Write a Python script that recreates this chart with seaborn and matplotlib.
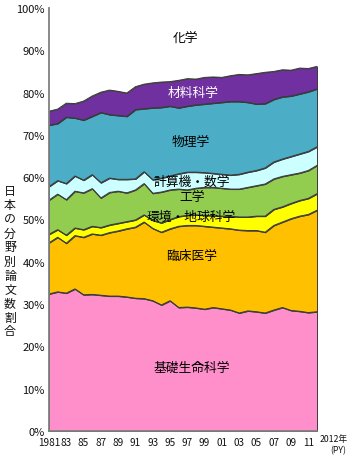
import numpy as np
import pandas as pd
import matplotlib
matplotlib.use("Agg")
import matplotlib.pyplot as plt
import seaborn as sns

years = list(range(1981, 2013))

fields = ["基礎生命科学", "臨床医学", "環境・地球科学", "工学", "計算機・数学", "物理学", "材料科学", "化学"]

basic_life = [32.4, 32.9, 32.6, 33.6, 32.2, 32.3, 32.1, 31.9, 31.9, 31.7, 31.4, 31.3, 30.8, 29.8, 30.8, 29.2,
              29.3, 29.1, 28.8, 29.2, 28.9, 28.6, 27.9, 28.4, 28.2, 27.9, 28.6, 29.2, 28.5, 28.3, 28.0, 28.2]
clinical = [12.1, 12.9, 11.8, 12.6, 13.6, 14.3, 14.2, 15.0, 15.4, 16.1, 16.8, 18.1, 17.1, 17.2, 17.0, 19.2,
            19.3, 19.5, 19.6, 19.0, 19.1, 19.2, 19.6, 19.0, 19.2, 19.1, 20.0, 20.2, 21.7, 22.5, 23.2, 24.0]
env_earth = [2.0, 1.8, 1.9, 1.8, 1.8, 1.8, 1.8, 1.8, 1.8, 1.7, 1.7, 1.7, 1.9, 2.2, 2.2, 2.3,
             2.4, 2.5, 2.6, 2.7, 2.8, 3.0, 3.1, 3.2, 3.4, 3.8, 3.8, 3.6, 3.6, 3.7, 3.8, 3.9]
engineering = [8.1, 8.4, 8.4, 8.7, 8.7, 8.9, 7.0, 7.7, 7.6, 6.8, 7.1, 7.4, 6.4, 7.3, 7.0, 6.5,
               6.0, 6.3, 6.6, 6.7, 6.6, 6.4, 6.6, 7.0, 7.2, 7.6, 7.2, 7.2, 6.8, 6.5, 6.6, 6.7]
comp_math = [3.2, 3.2, 3.8, 3.6, 3.0, 3.3, 3.6, 3.4, 2.8, 3.2, 2.6, 2.8, 3.2, 3.3, 3.3, 3.6,
             4.2, 3.8, 3.5, 3.3, 3.3, 3.3, 3.5, 3.6, 3.6, 3.8, 4.0, 4.1, 4.3, 4.5, 4.5, 4.4]
physics = [14.5, 13.5, 15.7, 13.7, 14.2, 13.8, 16.6, 15.0, 15.1, 14.9, 16.4, 14.9, 17.0, 16.7, 16.5, 15.6,
           15.6, 15.9, 16.2, 16.6, 17.0, 17.4, 17.2, 16.5, 15.7, 15.2, 14.8, 14.7, 14.3, 14.2, 14.1, 13.7]
materials = [3.3, 3.4, 3.3, 3.4, 4.5, 4.8, 4.8, 5.8, 5.7, 5.5, 5.4, 5.8, 5.9, 6.0, 5.8, 6.5,
             6.5, 6.1, 6.3, 6.2, 5.9, 6.1, 6.4, 6.5, 7.2, 7.4, 6.6, 6.4, 6.1, 6.1, 5.5, 5.3]

colors = ["#FF8FCB", "#FFC000", "#FFFF00", "#92CD50", "#CCFFFF", "#4BADC6", "#7030A0", "#FFFFFF"]

ytick_vals = list(range(0, 101, 10))
ytick_labels = [f"{v}%" for v in ytick_vals]
xtick_labels = ["1981" if y == 1981 else (f"{y % 100:02d}" if (y % 2 == 1) else "") for y in years]

series = [basic_life, clinical, env_earth, engineering, comp_math, physics, materials]
chemistry = [100 - sum(s[i] for s in series) for i in range(len(years))]

sns.set_theme(style="white")
plt.rcParams["font.family"] = ["Noto Sans CJK JP", "DejaVu Sans"]

fig = plt.figure(figsize=(3.5, 4.56), dpi=100)
ax = fig.add_axes([49 / 350, 1 - 432 / 456, (317 - 49) / 350, (432 - 9) / 456])

ax.stackplot(years, *series, colors=colors[:7], edgecolor="#3a3a3a", linewidth=0.7)

# boundary lines through seaborn
cum = np.cumsum(np.array(series), axis=0)
long = pd.DataFrame({
    "year": np.tile(years, len(series)),
    "value": cum.ravel(),
    "layer": np.repeat(fields[:7], len(years)),
})
sns.lineplot(data=long, x="year", y="value", units="layer", estimator=None,
             color="#3a3a3a", linewidth=0.7, ax=ax, legend=False)

ax.set_xlim(1981, 2012)
ax.set_ylim(0, 100)
ax.set_xticks(years)
ax.set_xticklabels(xtick_labels)
ax.set_yticks(ytick_vals)
ax.set_yticklabels(ytick_labels)
ax.set_xlabel("")
ax.set_ylabel("")
ax.tick_params(axis="both", direction="in", length=3, width=0.8, color="#606060",
               labelcolor="#111111", pad=2)
ax.tick_params(axis="y", labelsize=8.0, pad=3)
ax.tick_params(axis="x", labelsize=7.2, pad=4.5)
for s in ["top", "right"]:
    ax.spines[s].set_visible(False)
for s in ["left", "bottom"]:
    ax.spines[s].set_color("#808080")
    ax.spines[s].set_linewidth(1.3)
ax.grid(False)

def fx(px):
    return px / 350

def fy(py):
    return 1 - py / 456

label_specs = [
    ("化学", 185, 38, "black"),
    ("材料科学", 193, 93, "white"),
    ("物理学", 191, 142, "black"),
    ("計算機・数学", 192, 182, "black"),
    ("工学", 192, 197, "black"),
    ("環境・地球科学", 191, 217, "black"),
    ("臨床医学", 192, 256, "black"),
    ("基礎生命科学", 192, 368, "black"),
]
for txt, px, py, col in label_specs:
    fig.text(fx(px), fy(py), txt, ha="center", va="center", fontsize=9.2, color=col)

fig.text(fx(10), fy(262), "\n".join("日本の分野別論文数割合"), ha="center", va="center",
         fontsize=8.6, linespacing=1.1, color="#111111")
fig.text(fx(334), fy(440), "2012年", ha="center", va="center", fontsize=6.3, color="#111111")
fig.text(fx(338), fy(451), "(PY)", ha="center", va="center", fontsize=6.3, color="#111111")

fig.savefig("out.png", dpi=100)
